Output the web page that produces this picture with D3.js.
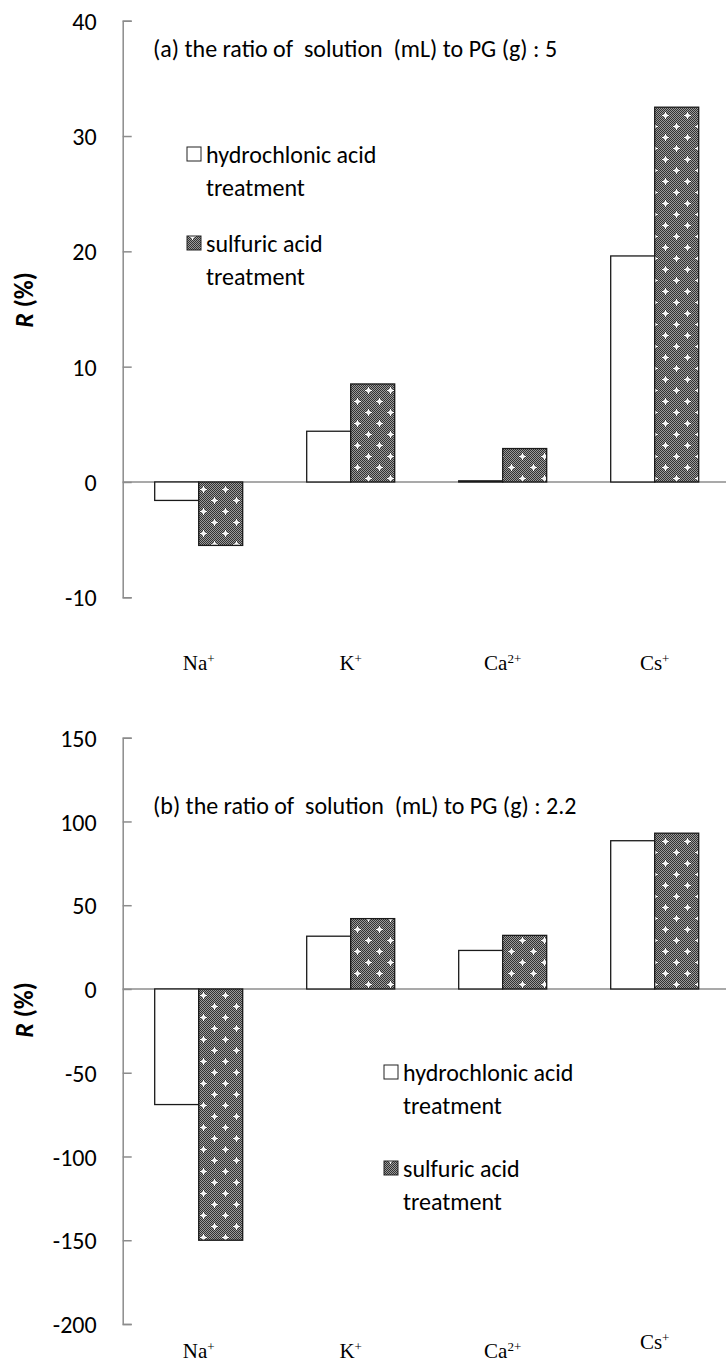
<!DOCTYPE html>
<html>
<head>
<meta charset="utf-8">
<script src="https://cdn.jsdelivr.net/npm/d3@7"></script>
<style>
  html, body { margin: 0; padding: 0; background: #fff; }
  svg { display: block; }
  .sans { font-family: Carlito, Lato, "Open Sans", sans-serif; }
  .serif { font-family: "Liberation Serif", "Times New Roman", serif; }
</style>
</head>
<body>
<svg id="chart" width="726" height="1366"></svg>
<script>
// Ion labels (base + superscript charge)
const ions = ["Na", "K", "Ca", "Cs"];
const charges = ["+", "+", "2+", "+"];
const seriesNames = ["hydrochlonic acid treatment", "sulfuric acid treatment"];

// Panel (a): solution (mL) : PG (g) = 5
const hclA = [-1.6, 4.4, 0.1, 19.6];
const h2so4A = [-5.5, 8.5, 2.9, 32.5];
const ticksA = [-10, 0, 10, 20, 30, 40];

// Panel (b): solution (mL) : PG (g) = 2.2
const hclB = [-69, 31.5, 23, 88.5];
const h2so4B = [-150, 42, 32, 93];
const ticksB = [-200, -150, -100, -50, 0, 50, 100, 150];

const svg = d3.select("#chart");
const defs = svg.append("defs");

// Fine dark checker used as the base of the sulfuric-acid fill
const fine = defs.append("pattern").attr("id", "fine")
  .attr("patternUnits", "userSpaceOnUse").attr("width", 2).attr("height", 2);
fine.append("rect").attr("width", 2).attr("height", 2).attr("fill", "#9a9a9a");
fine.append("rect").attr("x", 0).attr("y", 0).attr("width", 1).attr("height", 1).attr("fill", "#323232");
fine.append("rect").attr("x", 1).attr("y", 1).attr("width", 1).attr("height", 1).attr("fill", "#323232");

// Sparkle grid on top of the checker
const dots = defs.append("pattern").attr("id", "dots")
  .attr("patternUnits", "userSpaceOnUse").attr("width", 22).attr("height", 22);
dots.append("rect").attr("width", 22).attr("height", 22).attr("fill", "url(#fine)");
[[5, 5], [16, 16]].forEach(([cx, cy]) => {
  dots.append("rect").attr("x", cx).attr("y", cy - 3).attr("width", 1).attr("height", 7).attr("fill", "#fff");
  dots.append("rect").attr("x", cx - 3).attr("y", cy).attr("width", 7).attr("height", 1).attr("fill", "#fff");
  dots.append("rect").attr("x", cx - 1).attr("y", cy - 1).attr("width", 3).attr("height", 3).attr("fill", "#f4f4f4");
});

const axisX = 122.7;
const plotRight = 730.7;
const barW = 44;
const fs = 24;

const x = d3.scaleBand().domain(ions).range([axisX, plotRight]).paddingInner(0).paddingOuter(0);

function panel(opts) {
  const y = d3.scaleLinear().domain(opts.domain).range(opts.range);
  const g = svg.append("g");

  // category axis along zero
  g.append("line")
    .attr("x1", axisX).attr("x2", plotRight)
    .attr("y1", y(0)).attr("y2", y(0))
    .attr("stroke", "#8c8c8c").attr("stroke-width", 1.5);

  const rows = ions.map((ion, i) => ({ ion, a: opts.hcl[i], b: opts.h2so4[i] }));

  // hydrochloric acid bars (hollow)
  g.selectAll(".hcl").data(rows).enter().append("rect")
    .attr("class", "hcl")
    .attr("x", d => x(d.ion) + x.bandwidth() / 2 - barW)
    .attr("width", barW)
    .attr("y", d => y(Math.max(0, d.a)))
    .attr("height", d => Math.abs(y(d.a) - y(0)))
    .attr("fill", "#fff").attr("stroke", "#1a1a1a").attr("stroke-width", 1.3);

  // sulfuric acid bars (patterned)
  g.selectAll(".so4").data(rows).enter().append("rect")
    .attr("class", "so4")
    .attr("x", d => x(d.ion) + x.bandwidth() / 2)
    .attr("width", barW)
    .attr("y", d => y(Math.max(0, d.b)))
    .attr("height", d => Math.abs(y(d.b) - y(0)))
    .attr("fill", "url(#dots)").attr("stroke", "#1a1a1a").attr("stroke-width", 1.3);

  // value axis, ticks pointing into the plot
  const ax = g.append("g").attr("transform", `translate(${axisX},0)`)
    .call(d3.axisLeft(y).tickValues(opts.ticks).tickFormat(d => String(d))
      .tickSizeInner(-9).tickSizeOuter(-9).tickPadding(26));
  ax.select(".domain").attr("stroke", "#8c8c8c").attr("stroke-width", 1.5);
  ax.selectAll(".tick line").attr("stroke", "#8c8c8c").attr("stroke-width", 1.5);
  ax.selectAll(".tick text").attr("class", "sans").attr("font-size", fs).attr("fill", "#000")
    .attr("dy", "0.36em");

  // ion labels
  const lab = g.selectAll(".ion").data(ions).enter().append("text")
    .attr("class", "serif")
    .attr("x", d => x(d) + x.bandwidth() / 2)
    .attr("y", (d, i) => opts.labY[i])
    .attr("text-anchor", "middle").attr("font-size", 21).attr("fill", "#000");
  lab.append("tspan").text(d => d);
  lab.append("tspan").attr("dy", -7).attr("font-size", 13).text((d, i) => charges[i]);

  // panel title
  g.append("text").attr("class", "sans")
    .attr("x", 153).attr("y", opts.titleY)
    .attr("font-size", fs).attr("fill", "#000")
    .attr("xml:space", "preserve")
    .text(opts.title);

  // y title
  const yt = g.append("text").attr("class", "sans")
    .attr("transform", `translate(${opts.yTitle[0]},${opts.yTitle[1]}) rotate(-90)`)
    .attr("text-anchor", "middle").attr("font-size", 26).attr("font-weight", "bold").attr("fill", "#000");
  yt.append("tspan").attr("font-style", "italic").text("R");
  yt.append("tspan").text(" (%)");

  // legend
  const L = opts.legend;
  const leg = g.append("g");
  const items = [
    { fill: "#fff", lines: ["hydrochlonic acid", "treatment"], y: L.y1 },
    { fill: "url(#dots)", lines: ["sulfuric acid", "treatment"], y: L.y2 }
  ];
  items.forEach(it => {
    leg.append("rect")
      .attr("x", L.x).attr("y", it.y - 16)
      .attr("width", 14).attr("height", 14)
      .attr("fill", it.fill).attr("stroke", "#222").attr("stroke-width", 1);
    it.lines.forEach((t, k) => {
      leg.append("text").attr("class", "sans")
        .attr("x", L.x + 19).attr("y", it.y + k * 33)
        .attr("font-size", fs).attr("fill", "#000").text(t);
    });
  });
}

panel({
  domain: [-10, 40], range: [597.3, 20.7], ticks: ticksA,
  hcl: hclA, h2so4: h2so4A,
  labY: [670, 670, 670, 670],
  title: "(a) the ratio of  solution  (mL) to PG (g) : 5", titleY: 57,
  yTitle: [33, 300],
  legend: { x: 187, y1: 163, y2: 252 }
});

panel({
  domain: [-200, 150], range: [1324, 737.7], ticks: ticksB,
  hcl: hclB, h2so4: h2so4B,
  labY: [1358, 1358, 1358, 1349],
  title: "(b) the ratio of  solution  (mL) to PG (g) : 2.2", titleY: 814,
  yTitle: [33, 1010],
  legend: { x: 384, y1: 1081, y2: 1177 }
});
</script>
</body>
</html>
